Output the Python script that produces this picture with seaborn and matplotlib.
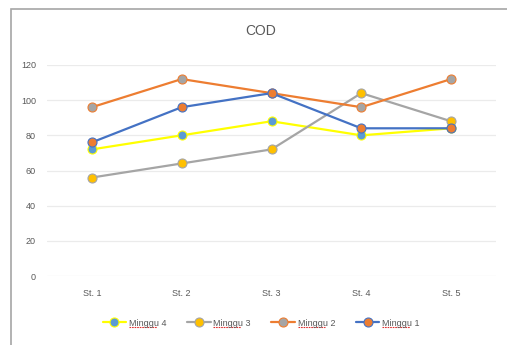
import matplotlib
matplotlib.use("Agg")
import matplotlib.pyplot as plt
from matplotlib.patches import Rectangle
from matplotlib.lines import Line2D
import seaborn as sns
import pandas as pd

stations = ["St. 1", "St. 2", "St. 3", "St. 4", "St. 5"]
minggu_4 = [72, 80, 88, 80, 84]
minggu_3 = [56, 64, 72, 104, 88]
minggu_2 = [96, 112, 104, 96, 112]
minggu_1 = [76, 96, 104, 84, 84]
series_names = ["Minggu 4", "Minggu 3", "Minggu 2", "Minggu 1"]
y_ticks = [0, 20, 40, 60, 80, 100, 120]

# line colour, marker fill colour
styles = {
    "Minggu 4": ("#FFFF00", "#5B9BD5"),
    "Minggu 3": ("#A5A5A5", "#FFC000"),
    "Minggu 2": ("#ED7D31", "#A5A5A5"),
    "Minggu 1": ("#4472C4", "#ED7D31"),
}

df = pd.DataFrame({
    "Stasiun": stations * 4,
    "COD": minggu_4 + minggu_3 + minggu_2 + minggu_1,
    "Seri": [n for n in series_names for _ in stations],
})

sns.set_style("white")
plt.rcParams["font.family"] = ["Liberation Sans", "DejaVu Sans"]

fig = plt.figure(figsize=(5.07, 3.45), dpi=100)
# chart frame
fig.patches.append(Rectangle((11 / 507, -0.1), 1.2, 1 - 9 / 345 + 0.1,
                             transform=fig.transFigure, fill=False,
                             edgecolor="#A6A6A6", linewidth=1.2, zorder=0))

ax = fig.add_axes([47 / 507, 1 - 276 / 345, (496 - 47) / 507, (276 - 65) / 345])

for name in series_names:
    line_c, mark_c = styles[name]
    sns.lineplot(data=df[df["Seri"] == name], x="Stasiun", y="COD", ax=ax,
                 color=line_c, linewidth=1.6, marker="o", markersize=6.5,
                 markerfacecolor=mark_c, markeredgecolor=line_c,
                 markeredgewidth=0.8, label=name, sort=False)

ax.set_ylim(0, 120)
ax.set_xlim(-0.5, 4.5)
ax.set_yticks(y_ticks)
ax.yaxis.grid(True, color="#EBEBEB", linewidth=0.9)
ax.set_axisbelow(True)
for s in ax.spines.values():
    s.set_visible(False)
ax.tick_params(axis="both", length=0, labelsize=6.5, labelcolor="#595959")
ax.tick_params(axis="y", pad=8)
ax.tick_params(axis="x", pad=9)
ax.set_xlabel("")
ax.set_ylabel("")

fig.text(261 / 507, 1 - 31 / 345, "COD", ha="center", va="center",
         fontsize=10, color="#595959")

handles, labels = ax.get_legend_handles_labels()
ax.get_legend().remove()
leg = fig.legend(handles, labels, loc="center", bbox_to_anchor=(0.515, 1 - 323 / 345),
                 ncol=4, frameon=False, fontsize=6.5, handlelength=2.6,
                 columnspacing=2.3, handletextpad=0.3)
for t in leg.get_texts():
    t.set_color("#595959")

# spell-check style red underline beneath the word "Minggu"
fig.canvas.draw()
renderer = fig.canvas.get_renderer()
inv = fig.transFigure.inverted()
for t in leg.get_texts():
    bb = t.get_window_extent(renderer)
    x0, y0 = inv.transform((bb.x0, bb.y0))
    x1, _ = inv.transform((bb.x0 + bb.width * 0.74, bb.y0))
    fig.lines.append(Line2D([x0, x1], [y0 + 0.002, y0 + 0.002], transform=fig.transFigure,
                            color="#E03030", linewidth=0.8, linestyle=(0, (1.5, 0.8))))

fig.savefig("out.png", dpi=100)
